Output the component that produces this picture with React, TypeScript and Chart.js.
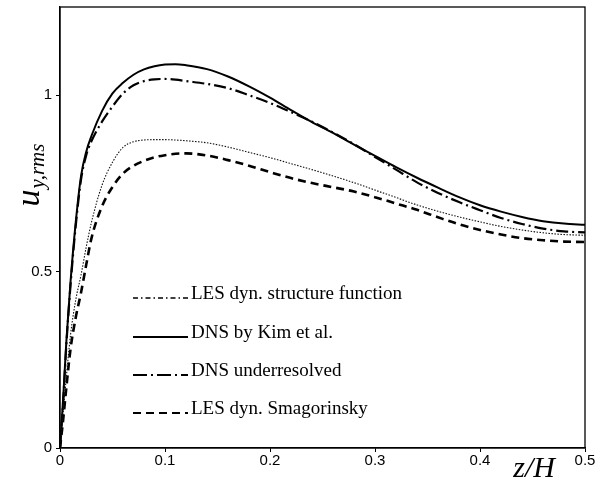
import React, { useEffect, useRef } from "react";
import { Chart, registerables } from "chart.js";

Chart.register(...registerables);

// z/H positions (shared grid)
const zH = [0, 0.003, 0.006, 0.01, 0.015, 0.02, 0.025, 0.03, 0.04, 0.05, 0.06, 0.07, 0.08, 0.09, 0.1, 0.11, 0.12, 0.14, 0.16, 0.18, 0.2, 0.22, 0.24, 0.26, 0.28, 0.3, 0.32, 0.34, 0.36, 0.38, 0.4, 0.42, 0.44, 0.46, 0.48, 0.5];

const lesStruct = [0, 0.1, 0.2, 0.32, 0.42, 0.49, 0.57, 0.64, 0.745, 0.81, 0.852, 0.868, 0.873, 0.874, 0.874, 0.873, 0.871, 0.865, 0.853, 0.838, 0.823, 0.806, 0.789, 0.771, 0.752, 0.731, 0.71, 0.689, 0.671, 0.655, 0.641, 0.628, 0.618, 0.61, 0.605, 0.603];
const dnsKim = [0, 0.14, 0.3, 0.47, 0.64, 0.77, 0.84, 0.885, 0.955, 1.005, 1.035, 1.058, 1.073, 1.082, 1.087, 1.088, 1.085, 1.074, 1.053, 1.025, 0.993, 0.958, 0.924, 0.893, 0.86, 0.828, 0.796, 0.766, 0.738, 0.711, 0.688, 0.67, 0.655, 0.643, 0.636, 0.633];
const dnsUnder = [0, 0.13, 0.29, 0.46, 0.63, 0.76, 0.83, 0.87, 0.925, 0.968, 1.005, 1.028, 1.04, 1.045, 1.046, 1.044, 1.04, 1.032, 1.02, 1.0, 0.978, 0.952, 0.925, 0.894, 0.861, 0.825, 0.789, 0.753, 0.723, 0.697, 0.674, 0.652, 0.635, 0.622, 0.614, 0.611];
const lesSmag = [0, 0.08, 0.17, 0.28, 0.37, 0.44, 0.52, 0.595, 0.685, 0.74, 0.778, 0.8, 0.814, 0.824, 0.83, 0.834, 0.835, 0.829, 0.816, 0.8, 0.782, 0.765, 0.751, 0.739, 0.727, 0.711, 0.693, 0.675, 0.654, 0.634, 0.618, 0.605, 0.595, 0.589, 0.585, 0.584];

const seriesLabels = ["LES dyn. structure function", "DNS by Kim et al.", "DNS underresolved", "LES dyn. Smagorinsky"];
const xTicks = [0, 0.1, 0.2, 0.3, 0.4, 0.5];
const yTicks = [0, 0.5, 1];
const xTitle = "z/H";
const yTitleMain = "u";
const yTitleSub = "y,rms";

const toPoints = (ys: number[]) => ys.map((y, i) => ({ x: zH[i], y }));

const legendStyles = [
  { dash: [5, 3, 1.5, 3], width: 1.6 },
  { dash: [], width: 2 },
  { dash: [14, 4, 2, 4], width: 2 },
  { dash: [8, 5], width: 2 },
];

const decorPlugin = {
  id: "decor",
  afterDraw(chart: any) {
    const ctx = chart.ctx as CanvasRenderingContext2D;
    const a = chart.chartArea;
    ctx.save();
    // frame
    ctx.strokeStyle = "#000";
    ctx.lineWidth = 1.3;
    ctx.setLineDash([]);
    ctx.strokeRect(a.left, a.top, a.right - a.left, a.bottom - a.top);

    // x title
    ctx.fillStyle = "#000";
    ctx.font = "italic 30px 'Liberation Serif'";
    ctx.textAlign = "right";
    ctx.textBaseline = "alphabetic";
    ctx.fillText(xTitle, 555, 477);

    // y title (rotated)
    ctx.save();
    ctx.translate(39, 175);
    ctx.rotate(-Math.PI / 2);
    ctx.font = "italic 34px 'Liberation Serif'";
    const wMain = ctx.measureText(yTitleMain).width;
    ctx.font = "italic 21px 'Liberation Serif'";
    const wSub = ctx.measureText(yTitleSub).width;
    const total = wMain + wSub + 1;
    ctx.textAlign = "left";
    ctx.font = "italic 34px 'Liberation Serif'";
    ctx.fillText(yTitleMain, -total / 2, 0);
    ctx.font = "italic 21px 'Liberation Serif'";
    ctx.fillText(yTitleSub, -total / 2 + wMain + 1, 5);
    ctx.restore();

    // legend
    const rows = [298, 337, 375, 413];
    chart.data.datasets.forEach((ds: any, i: number) => {
      const y = rows[i];
      const st = legendStyles[i];
      ctx.beginPath();
      ctx.setLineDash(st.dash);
      ctx.lineWidth = st.width;
      ctx.strokeStyle = "#000";
      ctx.moveTo(133, y);
      ctx.lineTo(188, y);
      ctx.stroke();
      ctx.setLineDash([]);
      ctx.font = "19px 'Liberation Serif'";
      ctx.textAlign = "left";
      ctx.textBaseline = "alphabetic";
      ctx.fillStyle = "#000";
      ctx.fillText(ds.label, 191, y + 1);
    });
    ctx.restore();
  },
};

export default function App() {
  const ref = useRef<HTMLCanvasElement | null>(null);
  useEffect(() => {
    if (!ref.current) return;
    const chart = new Chart(ref.current, {
      type: "line",
      data: {
        datasets: [
          { label: seriesLabels[0], data: toPoints(lesStruct), borderColor: "#111", borderWidth: 1.1, borderDash: [1.5, 1.5], pointRadius: 0, cubicInterpolationMode: "monotone", fill: false },
          { label: seriesLabels[1], data: toPoints(dnsKim), borderColor: "#000", borderWidth: 2, pointRadius: 0, cubicInterpolationMode: "monotone", fill: false },
          { label: seriesLabels[2], data: toPoints(dnsUnder), borderColor: "#000", borderWidth: 2.2, borderDash: [12, 4, 2, 4], pointRadius: 0, cubicInterpolationMode: "monotone", fill: false },
          { label: seriesLabels[3], data: toPoints(lesSmag), borderColor: "#000", borderWidth: 2.6, borderDash: [8, 5], pointRadius: 0, cubicInterpolationMode: "monotone", fill: false },
        ],
      } as any,
      options: {
        animation: false,
        responsive: false,
        events: [],
        layout: { padding: { top: 7, right: 29, left: 0, bottom: 0 } },
        plugins: { legend: { display: false }, tooltip: { enabled: false }, title: { display: false } },
        scales: {
          x: {
            type: "linear",
            min: 0,
            max: 0.5,
            afterBuildTicks: (s: any) => { s.ticks = xTicks.map((v) => ({ value: v })); },
            afterFit: (s: any) => { s.height = 38; s.paddingLeft = 0; s.paddingRight = 0; },
            ticks: { color: "#000", font: { family: "'Liberation Sans'", size: 15 }, padding: 0, maxRotation: 0, callback: (v: any) => String(v) },
            grid: { display: true, drawOnChartArea: false, drawTicks: true, tickLength: 4, color: "#000", lineWidth: 1 },
            border: { display: true, color: "#000", width: 1.3 },
          },
          y: {
            type: "linear",
            min: 0,
            max: 1.25,
            afterBuildTicks: (s: any) => { s.ticks = yTicks.map((v) => ({ value: v })); },
            afterFit: (s: any) => { s.width = 60; s.paddingTop = 0; s.paddingBottom = 0; },
            ticks: { color: "#000", font: { family: "'Liberation Sans'", size: 15 }, padding: 4, callback: (v: any) => String(v) },
            grid: { display: true, drawOnChartArea: false, drawTicks: true, tickLength: 4, color: "#000", lineWidth: 1 },
            border: { display: true, color: "#000", width: 1.3 },
          },
        },
      } as any,
      plugins: [decorPlugin],
    });
    return () => chart.destroy();
  }, []);
  return (
    <div style={{ position: "fixed", left: 0, top: 0, width: 614, height: 486, background: "#fff" }}>
      <canvas ref={ref} width={614} height={486} style={{ width: 614, height: 486, display: "block" }} />
    </div>
  );
}
